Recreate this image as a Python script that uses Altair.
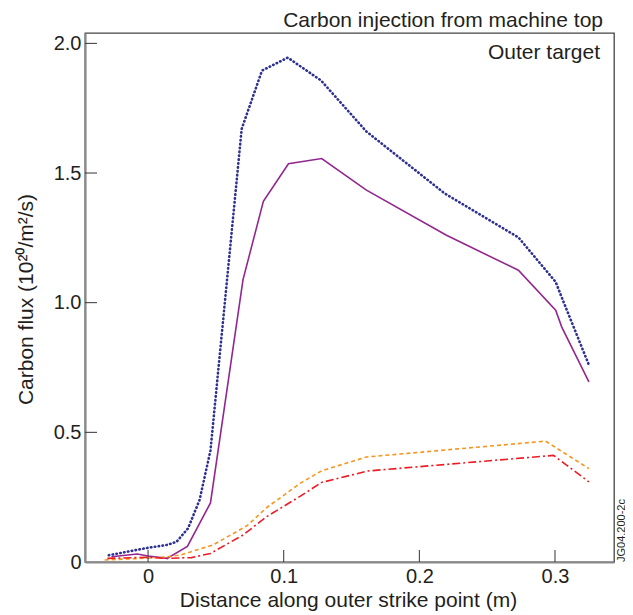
import altair as alt
import pandas as pd

# ---- data ----
blue_x = [-0.029, -0.015, -0.002, 0.014, 0.021, 0.0295, 0.038, 0.046, 0.0575, 0.069,
          0.084, 0.103, 0.1275, 0.161, 0.219, 0.273, 0.3005, 0.305, 0.325]
blue_y = [0.026, 0.040, 0.053, 0.066, 0.078, 0.13, 0.24, 0.43, 1.05, 1.67,
          1.895, 1.945, 1.857, 1.66, 1.42, 1.252, 1.08, 1.02, 0.76]

purple_x = [-0.027, -0.008, 0.0, 0.014, 0.029, 0.046, 0.070, 0.085, 0.1035, 0.128,
            0.161, 0.220, 0.273, 0.3005, 0.305, 0.325]
purple_y = [0.020, 0.031, 0.023, 0.014, 0.060, 0.228, 1.089, 1.391, 1.536, 1.556,
            1.434, 1.260, 1.125, 0.971, 0.906, 0.695]

orange_x = [-0.032, 0.0, 0.014, 0.024, 0.048, 0.073, 0.0875, 0.112, 0.128, 0.161, 0.293, 0.325]
orange_y = [0.008, 0.015, 0.020, 0.027, 0.066, 0.140, 0.210, 0.303, 0.352, 0.405, 0.466, 0.360]

red_x = [-0.030, -0.001, 0.014, 0.032, 0.046, 0.070, 0.0875, 0.112, 0.128, 0.162, 0.299, 0.325]
red_y = [0.014, 0.018, 0.014, 0.017, 0.033, 0.104, 0.175, 0.253, 0.307, 0.351, 0.411, 0.309]

x_tick_values = [0, 0.1, 0.2, 0.3]
y_tick_values = [0, 0.5, 1.0, 1.5, 2.0]
y_inner_ticks = [0.5, 1.0, 1.5, 2.0]

x_title = "Distance along outer strike point (m)"
y_title = "Carbon flux (10²⁰/m²/s)"
top_title = "Carbon injection from machine top"
inner_label = "Outer target"
side_code = "JG04.200-2c"

# ---- build table ----
rows = []
for name, xs, ys in [("purple", purple_x, purple_y), ("blue", blue_x, blue_y),
                     ("orange", orange_x, orange_y), ("red", red_x, red_y)]:
    for i, (a, b) in enumerate(zip(xs, ys)):
        rows.append({"series": name, "i": i, "x": a, "y": b})
df = pd.DataFrame(rows)

W, H = 529, 529
FONT = "Liberation Sans"
TXT = "#231f20"

xscale = alt.Scale(domain=[-0.0465, 0.3435], nice=False, zero=False)
yscale = alt.Scale(domain=[0, 2.04], nice=False, zero=False)

lbl = "datum.value == 0 ? '0' : format(datum.value, '.1f')"

x_axis = alt.Axis(values=x_tick_values, labelExpr=lbl, ticks=False, tickSize=0, grid=False,
                  labelFontSize=20, labelPadding=4, labelFlush=False, labelOverlap=False,
                  title=x_title, titleFontSize=21, titleFontWeight="normal",
                  titleX=263, titleY=44, titleBaseline="alphabetic", titleAlign="center")
y_axis = alt.Axis(values=y_tick_values, labelExpr=lbl, ticks=False, tickSize=0, grid=False,
                  labelFontSize=20, labelPadding=4, labelFlush=False, labelOverlap=False,
                  title=y_title, titleFontSize=21, titleFontWeight="normal",
                  titleX=-53, titleY=266, titleAngle=270, titleBaseline="alphabetic",
                  titleAlign="center")

styles = {
    "purple": dict(color="#92278f", strokeWidth=1.6),
    "blue": dict(color="#2e3192", strokeWidth=2.6, strokeDash=[0.5, 3.4], strokeCap="round"),
    "orange": dict(color="#f7941d", strokeWidth=1.6, strokeDash=[4, 3]),
    "red": dict(color="#ed1c24", strokeWidth=1.6, strokeDash=[8, 3, 2, 3]),
}

layers = []
for name in ["purple", "blue", "orange", "red"]:
    layers.append(
        alt.Chart(df).transform_filter(alt.datum.series == name)
        .mark_line(clip=True, **styles[name])
        .encode(x=alt.X("x:Q", scale=xscale, axis=x_axis),
                y=alt.Y("y:Q", scale=yscale, axis=y_axis), order="i:Q")
    )

xt = alt.Chart(pd.DataFrame({"x": x_tick_values})).mark_rule(color="#333333", strokeWidth=1).encode(
    x=alt.X("x:Q", scale=xscale, axis=x_axis), y=alt.value(H - 12), y2=alt.value(H))
yt = alt.Chart(pd.DataFrame({"y": y_inner_ticks})).mark_rule(color="#333333", strokeWidth=1).encode(
    y=alt.Y("y:Q", scale=yscale, axis=y_axis), x=alt.value(0), x2=alt.value(12))

t1 = alt.Chart(pd.DataFrame({"t": [top_title]})).mark_text(
    align="right", baseline="alphabetic", fontSize=21, font=FONT, color=TXT).encode(
    text="t:N", x=alt.value(518), y=alt.value(-6))
t2 = alt.Chart(pd.DataFrame({"t": [inner_label]})).mark_text(
    align="right", baseline="alphabetic", fontSize=21, font=FONT, color=TXT).encode(
    text="t:N", x=alt.value(515), y=alt.value(26))
t3 = alt.Chart(pd.DataFrame({"t": [side_code]})).mark_text(
    align="left", baseline="alphabetic", angle=270, fontSize=11, font=FONT, color=TXT).encode(
    text="t:N", x=alt.value(539.5), y=alt.value(H))

chart = alt.layer(*layers, xt, yt, t1, t2, t3).properties(
    width=W, height=H,
    autosize=alt.AutoSizeParams(type="none"),
    padding={"left": 77, "top": 25, "right": 11, "bottom": 50},
).configure_view(
    stroke="#444444", strokeWidth=1.3
).configure_axis(
    domainColor="#8a8a8a", domainWidth=2.2, labelColor=TXT, titleColor=TXT,
    labelFont=FONT, titleFont=FONT
)

chart.save("out.html", embed_options={"renderer": "svg", "actions": False})
